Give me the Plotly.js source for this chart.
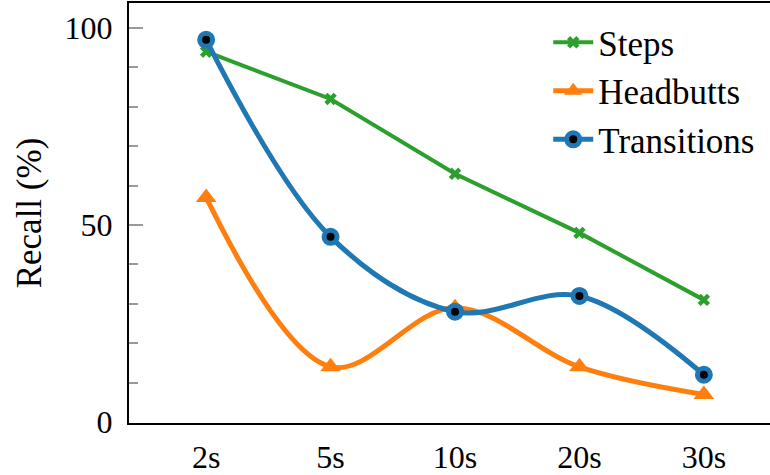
<!DOCTYPE html>
<html>
<head>
<meta charset="utf-8">
<script src="https://cdn.plot.ly/plotly-3.0.1.min.js"></script>
<style>
  html, body { margin: 0; padding: 0; overflow: hidden; background: #fff; }
  #chart { width: 790px; height: 475px; }
</style>
</head>
<body>
<div id="chart"></div>
<script>
// Window lengths on the x axis
const windows = ['2s', '5s', '10s', '20s', '30s'];

// Recall (%) per event type
const stepsRecall = [94, 82, 63, 48, 31];
const headbuttsRecall = [57, 14, 29, 14, 7];
const transitionsRecall = [97, 47, 28, 32, 12];

const serif = 'Liberation Serif, Times New Roman, serif';

const traces = [
  {
    name: 'Steps', x: windows, y: stepsRecall, type: 'scatter', mode: 'lines+markers',
    line: { color: '#2ca02c', width: 4, shape: 'linear' },
    marker: { symbol: 'x', size: 11, color: '#2ca02c' }
  },
  {
    name: 'Headbutts', x: windows, y: headbuttsRecall, type: 'scatter', mode: 'lines+markers',
    line: { color: '#ff7f0e', width: 5, shape: 'spline', smoothing: 1 },
    marker: { symbol: 'triangle-up', size: 18, color: '#ff7f0e' }
  },
  {
    name: 'Transitions', x: windows, y: transitionsRecall, type: 'scatter', mode: 'lines+markers',
    line: { color: '#1f77b4', width: 5, shape: 'spline', smoothing: 1 },
    marker: { symbol: 'circle', size: 13, color: '#000000', line: { color: '#1f77b4', width: 5 } }
  }
];

const layout = {
  width: 790, height: 475,
  margin: { l: 129, r: 9, t: 3, b: 52 },
  paper_bgcolor: '#fff', plot_bgcolor: '#fff',
  font: { family: serif, size: 32, color: '#000' },
  showlegend: true,
  legend: {
    x: 0.643, y: 0.976, xanchor: 'left', yanchor: 'top',
    bgcolor: 'rgba(0,0,0,0)', font: { family: serif, size: 35, color: '#000' },
    itemwidth: 40, tracegroupgap: 0
  },
  xaxis: {
    type: 'category', range: [-0.62, 4.62],
    showline: true, linecolor: '#000', linewidth: 2, mirror: true,
    showgrid: false, zeroline: false, ticks: '',
    ticklabelstandoff: 5,
    tickfont: { family: serif, size: 32, color: '#000' }
  },
  yaxis: {
    range: [-0.25, 106.35], tickvals: [0, 50, 100],
    showline: true, linecolor: '#000', linewidth: 2, mirror: true,
    showgrid: false, zeroline: false,
    ticks: 'inside', ticklen: 14, tickwidth: 2, tickcolor: '#9a9a9a',
    minor: { tickvals: [10, 20, 30, 40, 60, 70, 80, 90], ticks: 'inside', ticklen: 9, tickwidth: 2, tickcolor: '#9a9a9a' },
    ticklabelstandoff: 8,
    tickfont: { family: serif, size: 32, color: '#000' },
    title: { text: 'Recall (%)', font: { family: serif, size: 35, color: '#000' }, standoff: 12 }
  }
};

Plotly.newPlot('chart', traces, layout, { displayModeBar: false, staticPlot: true });
</script>
</body>
</html>
